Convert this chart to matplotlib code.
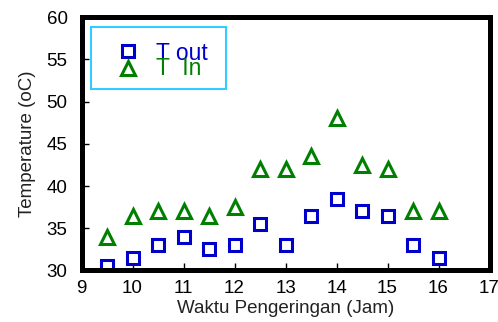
import matplotlib
matplotlib.use('Agg')
import matplotlib.pyplot as plt
from matplotlib.patches import Rectangle

plt.rcParams['font.family'] = ['Liberation Sans', 'DejaVu Sans']

# drying time (hours) and measured temperatures
waktu = [9.5, 10, 10.5, 11, 11.5, 12, 12.5, 13, 13.5, 14, 14.5, 15, 15.5, 16]
t_out = [30.5, 31.5, 33, 34, 32.5, 33, 35.5, 33, 36.5, 38.5, 37, 36.5, 33, 31.5]
t_in = [34, 36.5, 37, 37, 36.5, 37.5, 42, 42, 43.5, 48, 42.5, 42, 37, 37]

blue = '#0000cc'
green = '#008000'

fig = plt.figure(figsize=(4.98, 3.22), dpi=100)
ax = fig.add_axes([0.1637, 0.16, 0.8193, 0.787])

ax.plot(waktu, t_out, ls='none', marker='s', ms=9, mfc='none', mec=blue, mew=2.2)
ax.plot(waktu, t_in, ls='none', marker='^', ms=9.5, mfc='none', mec=green, mew=2.2)

ax.set_xlim(9, 17)
ax.set_ylim(30, 60)
ax.set_xticks(range(9, 18))
ax.set_yticks(range(30, 61, 5))
ax.tick_params(direction='in', length=5, width=1, labelsize=13.5)
ax.tick_params(axis='x', pad=7)
ax.tick_params(axis='y', pad=10)
for s in ax.spines.values():
    s.set_linewidth(3.6)

ax.set_xlabel('Waktu Pengeringan (Jam)', fontsize=13.5, color='#222222', labelpad=2)
ax.set_ylabel('Temperature (oC)', fontsize=13.5, color='#222222', labelpad=8)

# legend box drawn by hand so the two rows can overlap
ax.add_patch(Rectangle((0.024, 0.717), 0.33, 0.244, transform=ax.transAxes,
                       fill=False, edgecolor='#33ccff', lw=1.5, zorder=5))
ax.plot([0.115], [0.866], transform=ax.transAxes, marker='s', ms=8, mfc='none',
        mec=blue, mew=2.2, clip_on=False, zorder=6)
ax.plot([0.115], [0.799], transform=ax.transAxes, marker='^', ms=9.5, mfc='none',
        mec=green, mew=2.2, clip_on=False, zorder=6)
ax.text(0.183, 0.858, 'T out', transform=ax.transAxes, fontsize=16.5, color=blue,
        va='center', ha='left', zorder=6)
ax.text(0.183, 0.797, 'T  In', transform=ax.transAxes, fontsize=16.5, color=green,
        va='center', ha='left', zorder=6)

fig.savefig('out.png', dpi=100)
